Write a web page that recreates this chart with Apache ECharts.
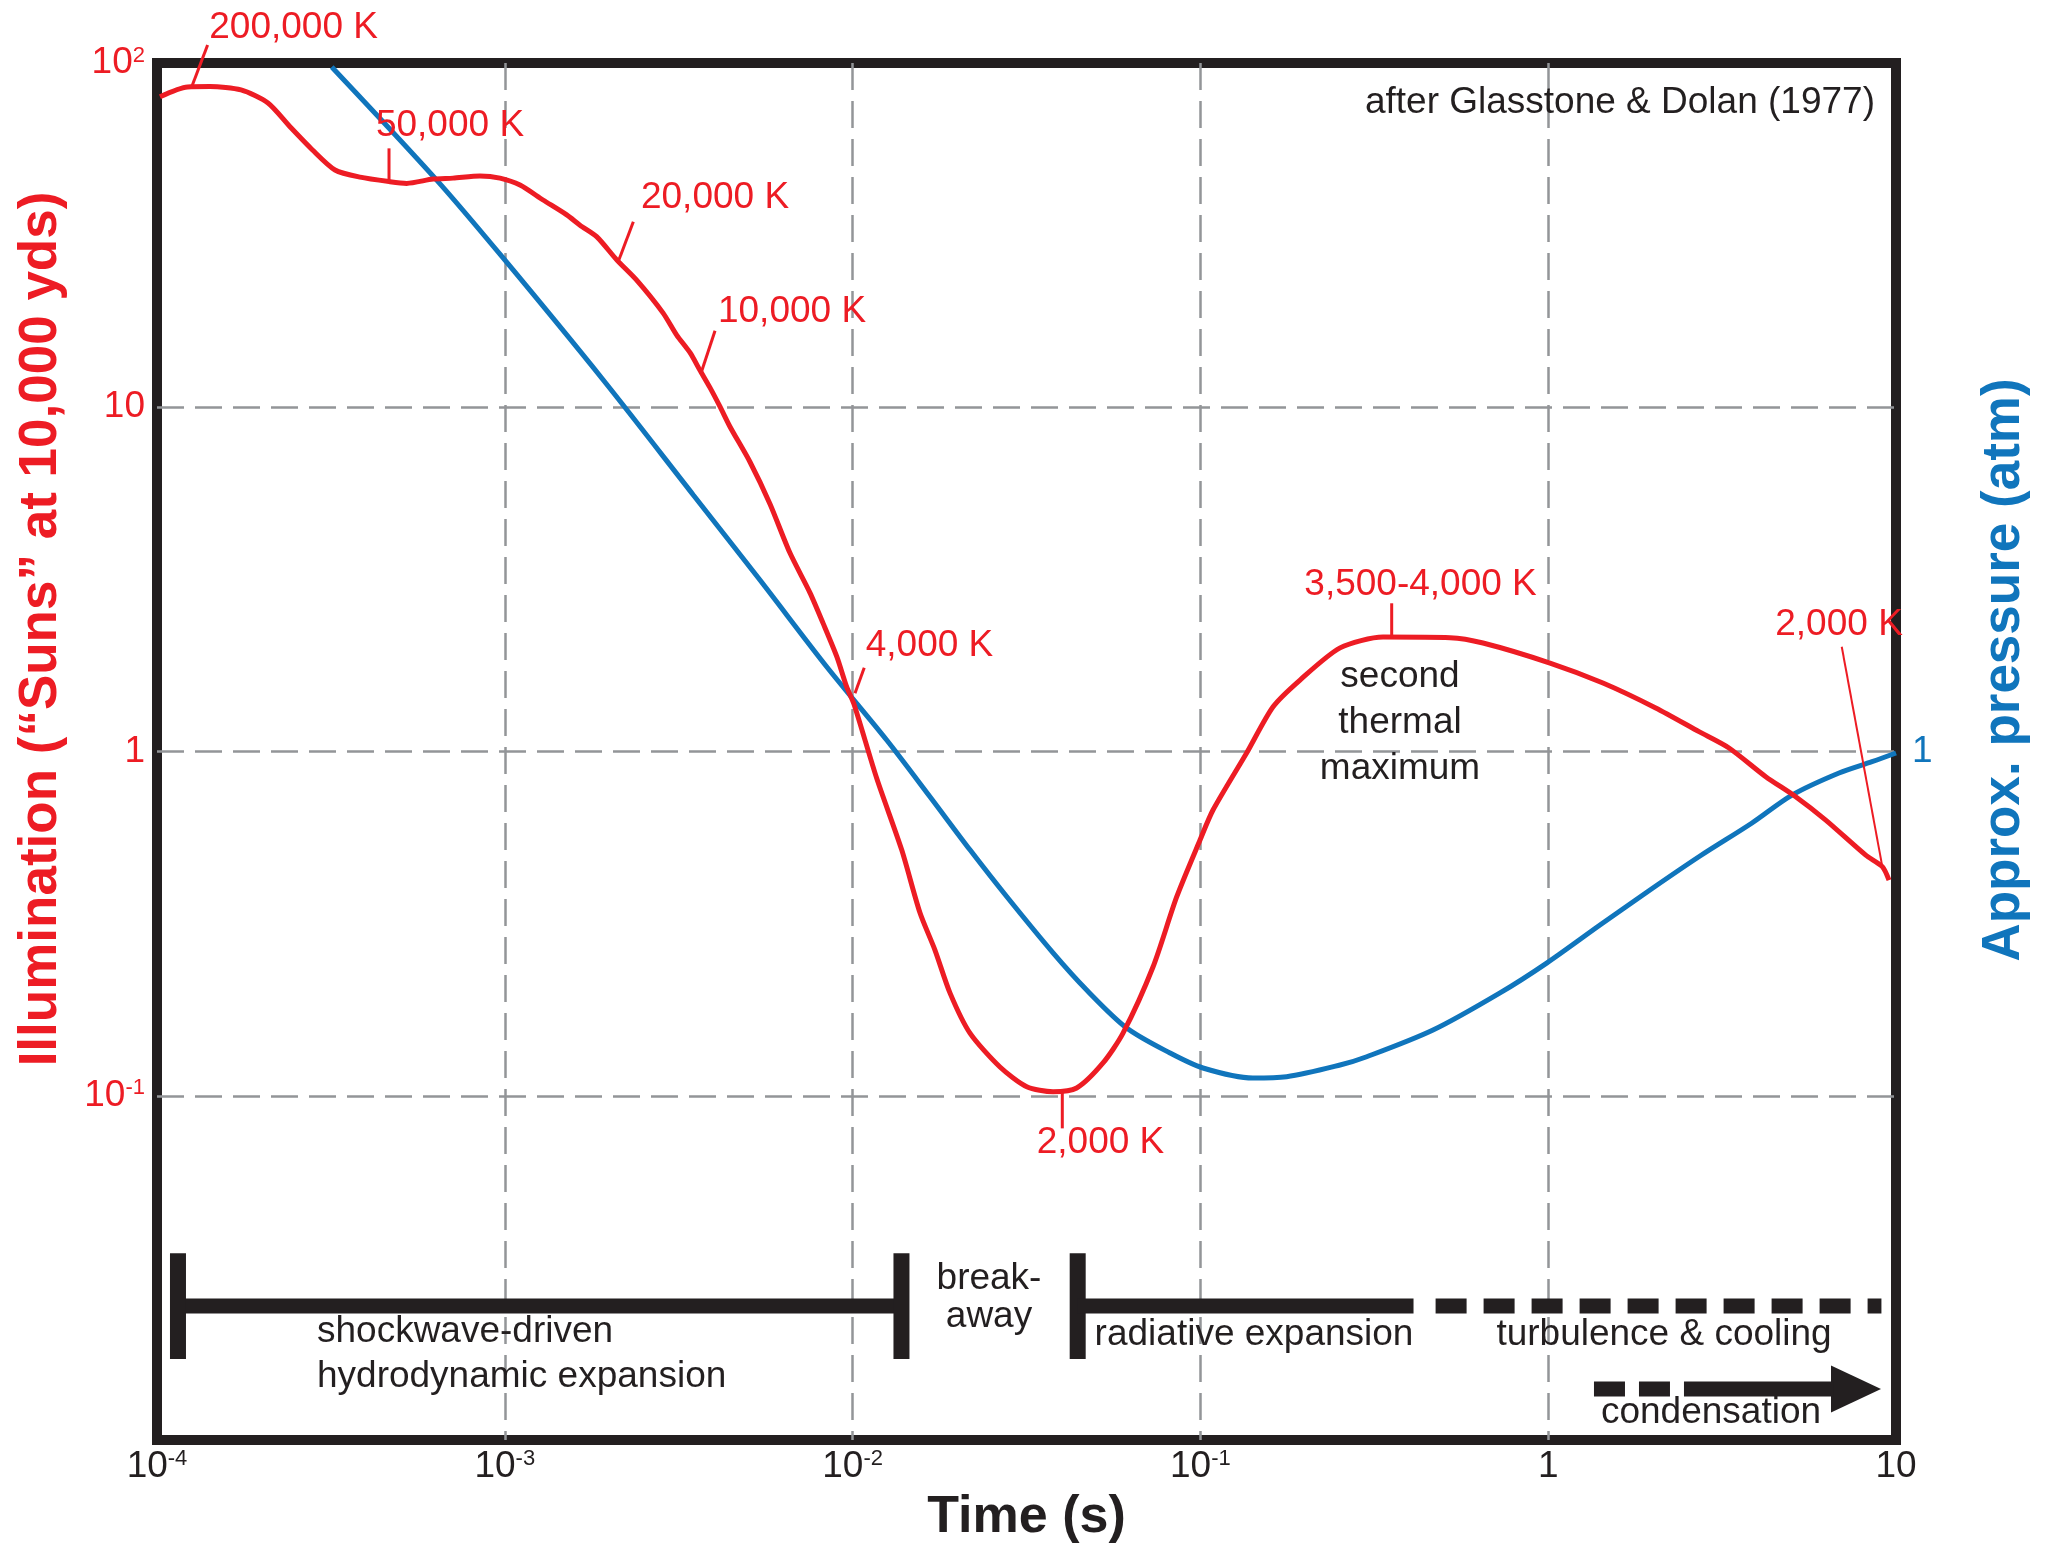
<!DOCTYPE html>
<html>
<head>
<meta charset="utf-8">
<title>Illumination and pressure vs time</title>
<script src="https://cdn.jsdelivr.net/npm/echarts@6/dist/echarts.min.js"></script>
<style>
  html, body { margin: 0; padding: 0; background: #fff; }
  #chart { width: 2059px; height: 1551px; }
</style>
</head>
<body>
<div id="chart"></div>
<script>
const RED = "#ED1C24";
const BLUE = "#1075BC";
const INK = "#231F20";
const GRID = "#939598";
const FONT = '"Liberation Sans", Arial, Helvetica, sans-serif';

// illumination curve (time in s, "Suns")
const redTime = [1.020e-4, 1.224e-4, 1.421e-4, 1.744e-4, 2.085e-4, 2.412e-4, 2.800e-4, 3.249e-4, 3.836e-4, 4.676e-4,
  5.222e-4, 6.218e-4, 7.098e-4, 8.485e-4, 9.687e-4, 1.106e-3, 1.288e-3, 1.507e-3, 1.645e-3, 1.837e-3,
  2.098e-3, 2.394e-3, 2.850e-3, 3.121e-3, 3.409e-3, 3.641e-3, 3.890e-3, 4.157e-3, 4.441e-3, 5.070e-3,
  5.787e-3, 6.607e-3, 7.543e-3, 8.222e-3, 9.018e-3, 9.616e-3, 1.009e-2, 1.173e-2, 1.384e-2,
  1.562e-2, 1.725e-2, 1.905e-2, 2.175e-2, 2.653e-2, 3.168e-2, 3.770e-2, 4.408e-2, 5.248e-2, 5.991e-2,
  7.306e-2, 8.546e-2, 9.975e-2, 0.1087, 0.1358, 0.1618, 0.1934, 0.2521, 0.3350, 0.5221,
  0.6494, 1.012, 1.437, 2.038, 2.714, 3.310, 4.222, 5.148, 6.280, 8.184, 9.134, 9.548];
const redSuns = [79.8, 85.2, 85.4, 83.5, 76.5, 65.3, 55.9, 48.9, 46.6, 45.2,
  44.7, 46.0, 46.3, 47.0, 46.3, 44.2, 40.0, 36.2, 33.8, 31.3,
  26.8, 23.4, 18.8, 16.2, 14.4, 12.8, 11.4, 10.04, 8.78, 6.934,
  5.236, 3.77, 2.89, 2.36, 1.88, 1.54, 1.374, 0.836, 0.518,
  0.340, 0.265, 0.199, 0.152, 0.1212, 0.1062, 0.1027, 0.1053, 0.1245, 0.152,
  0.2366, 0.378, 0.553, 0.676, 0.990, 1.349, 1.613, 2.00, 2.15, 2.141,
  2.066, 1.807, 1.581, 1.338, 1.142, 1.024, 0.845, 0.739, 0.632, 0.500, 0.463, 0.423];

// pressure curve (time in s, atm)
const blueTime = [3.18e-4, 6.371e-4, 9.902e-4, 1.919e-3, 3.483e-3, 5.416e-3, 8.424e-3, 1.253e-2, 1.669e-2, 2.175e-2,
  2.773e-2, 3.770e-2, 4.710e-2, 6.140e-2, 8.176e-2, 0.1017, 0.1416, 0.1770, 0.2521, 0.3007,
  0.4665, 0.7269, 0.990, 1.409, 1.962, 2.732, 3.855, 5.023, 6.858, 8.531, 10];
const bluePressure = [97.4, 45.7, 27.1, 12.00, 5.563, 3.149, 1.763, 1.080, 0.739, 0.518,
  0.379, 0.260, 0.2028, 0.1573, 0.1331, 0.1204, 0.1126, 0.1136, 0.1228, 0.1298,
  0.1552, 0.199, 0.2429, 0.3133, 0.396, 0.497, 0.620, 0.747, 0.866, 0.934, 0.99];

// temperature notes and their leader lines
const tempText = ["200,000 K", "50,000 K", "20,000 K", "10,000 K", "4,000 K", "2,000 K", "3,500-4,000 K", "2,000 K"];
const tempTime = [2.470e-4, 6.957e-4, 4.022e-3, 6.696e-3, 1.664e-2, 5.162e-2, 0.4295, 6.858];
const tempSuns = [126.4, 65.6, 40.5, 18.97, 2.025, 0.07292, 3.045, 2.331];
const leaderTime = [[1.398e-4, 1.261e-4], [4.646e-4, 4.646e-4], [2.342e-3, 2.120e-3], [4.022e-3, 3.665e-3],
  [1.080e-2, 1.016e-2], [4.008e-2, 4.008e-2], [0.3548, 0.3548], [6.982, 9.134]];
const leaderSuns = [[112.8, 85.7], [56.5, 45.7], [34.6, 26.5], [16.69, 12.55],
  [1.752, 1.476], [0.1019, 0.0804], [2.695, 2.146], [2.015, 0.4628]];

// black notes
const noteText = ["second\nthermal\nmaximum", "after Glasstone & Dolan (1977)", "shockwave-driven\nhydrodynamic expansion",
  "break-\naway", "radiative expansion", "turbulence & cooling", "condensation"];
const noteTime = [0.3749, 8.70, 2.884e-4, 2.467e-2, 4.964e-2, 0.7097, 1.418];
const noteSuns = [1.210, 76.8, 0.01772, 0.02585, 0.02018, 0.02018, 0.01198];
const noteAlign = ["center", "right", "left", "center", "left", "left", "left"];
const noteLineHeight = [46, 40, 45, 38, 40, 40, 40];

// phase bars along the bottom
const phaseLevel = 0.0245;
const phaseTick = [0.0349, 0.01718];
const shockwaveSpan = [1.149e-4, 1.382e-2];
const radiativeSpan = [4.438e-2, 0.41];
const turbulenceSpan = [0.4745, 9.08];
const condensationLevel = 0.01407;
const condensationDashSpan = [1.354, 2.591];
const condensationSolidSpan = [2.591, 6.6];
const condensationHead = 7.674;

const chart = echarts.init(document.getElementById("chart"));

const powerLabel = (v, hideBottom) => {
  const e = Math.round(Math.log10(v));
  if (hideBottom && e === -2) return "";
  if (e === 0) return "{b|1}";
  if (e === 1) return "{b|10}";
  return "{b|10}{s|" + e + "}";
};

const richFor = (color) => ({
  b: { fontSize: 37, fontFamily: FONT, color: color },
  s: { fontSize: 22, fontFamily: FONT, color: color, verticalAlign: "top" },
});

const segment = (xs, ys) => xs.map((x, i) => [x, ys[i]]);

const barLine = (data, width, dash) => ({
  type: "line",
  data: data,
  symbol: "none",
  silent: true,
  clip: false,
  lineStyle: { color: INK, width: width, cap: "butt", type: dash || "solid", opacity: 1 },
});

const series = [
  {
    name: "Illumination",
    type: "line",
    data: segment(redTime, redSuns),
    symbol: "none",
    smooth: 0.25,
    lineStyle: { color: RED, width: 5 },
    z: 5,
  },
  {
    name: "Pressure",
    type: "line",
    yAxisIndex: 1,
    data: segment(blueTime, bluePressure),
    symbol: "none",
    smooth: 0.3,
    lineStyle: { color: BLUE, width: 5 },
    z: 4,
  },
];

// leader lines
leaderTime.forEach((xs, i) => {
  series.push({
    type: "line",
    data: segment(xs, leaderSuns[i]),
    symbol: "none",
    silent: true,
    clip: false,
    lineStyle: { color: RED, width: i === 7 ? 2 : 3 },
    z: 6,
  });
});

// temperature labels
series.push({
  type: "scatter",
  silent: true,
  clip: false,
  symbolSize: 1,
  itemStyle: { color: "transparent", opacity: 1 },
  data: tempText.map((t, i) => ({ value: [tempTime[i], tempSuns[i]], name: t })),
  label: {
    show: true,
    position: "inside",
    formatter: (p) => p.name,
    color: RED,
    opacity: 1,
    fontSize: 37,
    fontFamily: FONT,
  },
  z: 10,
});

// black notes
series.push({
  type: "scatter",
  silent: true,
  clip: false,
  symbolSize: 1,
  itemStyle: { color: "transparent", opacity: 1 },
  data: noteText.map((t, i) => ({
    value: [noteTime[i], noteSuns[i]],
    name: t,
    label: { align: noteAlign[i], lineHeight: noteLineHeight[i] },
  })),
  label: {
    show: true,
    position: "inside",
    formatter: (p) => p.name,
    color: INK,
    opacity: 1,
    fontSize: 37,
    fontFamily: FONT,
    verticalAlign: "middle",
  },
  z: 10,
});

// phase bars
series.push(barLine([[shockwaveSpan[0], phaseLevel], [shockwaveSpan[1], phaseLevel]], 15));
series.push(barLine([[shockwaveSpan[0], phaseTick[0]], [shockwaveSpan[0], phaseTick[1]]], 16));
series.push(barLine([[shockwaveSpan[1], phaseTick[0]], [shockwaveSpan[1], phaseTick[1]]], 16));
series.push(barLine([[radiativeSpan[0], phaseTick[0]], [radiativeSpan[0], phaseTick[1]]], 16));
series.push(barLine([[radiativeSpan[0], phaseLevel], [radiativeSpan[1], phaseLevel]], 15));
series.push(barLine([[turbulenceSpan[0], phaseLevel], [turbulenceSpan[1], phaseLevel]], 15, [31, 17]));
series.push(barLine([[condensationDashSpan[0], condensationLevel], [condensationDashSpan[1], condensationLevel]], 15, [31, 14]));
series.push(barLine([[condensationSolidSpan[0], condensationLevel], [condensationSolidSpan[1], condensationLevel]], 15));
series.push({
  type: "scatter",
  silent: true,
  clip: false,
  symbol: "triangle",
  symbolSize: [47, 50],
  symbolRotate: -90,
  itemStyle: { color: INK, opacity: 1 },
  data: [[condensationHead, condensationLevel]],
});

const dashedSplit = {
  show: true,
  showMinLine: false,
  showMaxLine: false,
  lineStyle: { color: GRID, width: 2.5, type: [27, 11] },
};

const option = {
  animation: false,
  backgroundColor: "#fff",
  textStyle: { fontFamily: FONT },
  grid: {
    left: 157,
    right: 163,
    top: 63,
    bottom: 111,
    show: true,
    borderColor: INK,
    borderWidth: 10,
    backgroundColor: "transparent",
  },
  xAxis: {
    type: "log",
    logBase: 10,
    min: 1e-4,
    max: 10,
    axisLine: { show: false },
    axisTick: { show: false },
    splitLine: dashedSplit,
    axisLabel: {
      margin: 8,
      showMinLabel: true,
      showMaxLabel: true,
      formatter: (v) => powerLabel(v, false),
      rich: richFor(INK),
    },
    name: "Time (s)",
    nameLocation: "middle",
    nameGap: 45,
    nameTextStyle: { fontSize: 52, fontWeight: "bold", color: INK, fontFamily: FONT, lineHeight: 56 },
  },
  yAxis: [
    {
      type: "log",
      logBase: 10,
      min: 0.01,
      max: 100,
      axisLine: { show: false },
      axisTick: { show: false },
      splitLine: dashedSplit,
      axisLabel: {
        margin: 12,
        showMinLabel: true,
        showMaxLabel: true,
        formatter: (v) => powerLabel(v, true),
        rich: richFor(RED),
      },
    },
    {
      type: "log",
      logBase: 10,
      min: 0.01,
      max: 100,
      position: "right",
      axisLine: { show: false },
      axisTick: { show: false },
      splitLine: { show: false },
      axisLabel: {
        margin: 16,
        color: BLUE,
        fontSize: 37,
        fontFamily: FONT,
        formatter: (v) => (Math.round(Math.log10(v)) === 0 ? "1" : ""),
      },
    },
  ],
  graphic: [
    {
      type: "text",
      x: 41,
      y: 629,
      rotation: Math.PI / 2,
      silent: true,
      style: {
        text: "Illumination (\u201cSuns\u201d at 10,000 yds)",
        fill: RED,
        font: "bold 53px " + FONT,
        align: "center",
        verticalAlign: "middle",
      },
    },
    {
      type: "text",
      x: 2004,
      y: 670,
      rotation: Math.PI / 2,
      silent: true,
      style: {
        text: "Approx. pressure (atm)",
        fill: BLUE,
        font: "bold 53px " + FONT,
        align: "center",
        verticalAlign: "middle",
      },
    },
  ],
  series: series,
};

chart.setOption(option);
window.addEventListener("resize", () => chart.resize());
</script>
</body>
</html>
